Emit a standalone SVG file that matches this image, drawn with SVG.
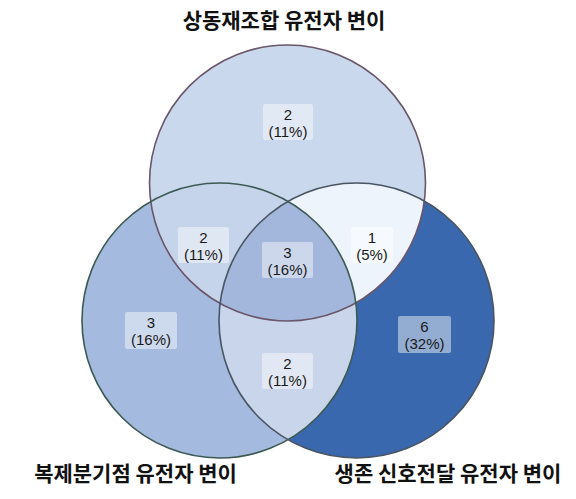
<svg xmlns="http://www.w3.org/2000/svg" width="576" height="499" viewBox="0 0 576 499">
  <style>
    .title { font-family: "Noto Sans CJK KR", "Noto Sans", sans-serif; font-weight: bold; font-size: 21px; fill: #111111; text-anchor: middle; }
    .lbl { font-family: "Liberation Sans", Arial, sans-serif; font-size: 15px; fill: #1a1a1a; text-anchor: middle; }
    .box { fill: #ffffff; fill-opacity: 0.45; }
    .outline { fill: none; stroke-width: 1.6; }
  </style>
  <defs>
    <clipPath id="clipTop"><circle cx="287.5" cy="183" r="138"/></clipPath>
    <clipPath id="clipLeft"><circle cx="219.5" cy="320.5" r="137.5"/></clipPath>
    <clipPath id="clipRight"><circle cx="356.5" cy="320.5" r="137.5"/></clipPath>
  </defs>
  <rect width="576" height="499" fill="#ffffff"/>

  <g id="regions">
    <circle cx="219.5" cy="320.5" r="137.5" fill="#a4badf"/>
    <circle cx="356.5" cy="320.5" r="137.5" fill="#3a68ae"/>
    <circle cx="287.5" cy="183" r="138" fill="#c9d8ec"/>
    <circle cx="219.5" cy="320.5" r="137.5" fill="#c8d5ea" clip-path="url(#clipRight)"/>
    <circle cx="219.5" cy="320.5" r="137.5" fill="#c5d4ea" clip-path="url(#clipTop)"/>
    <circle cx="356.5" cy="320.5" r="137.5" fill="#eef4fc" clip-path="url(#clipTop)"/>
    <g clip-path="url(#clipTop)">
      <circle cx="356.5" cy="320.5" r="137.5" fill="#a3b7dc" clip-path="url(#clipLeft)"/>
    </g>
  </g>

  <g id="set-top">
    <circle class="outline" cx="287.5" cy="183" r="138" stroke="#6a5668"/>
    <text class="title" x="284" y="28">상동재조합 유전자 변이</text>
  </g>
  <g id="set-left">
    <circle class="outline" cx="219.5" cy="320.5" r="137.5" stroke="#3d5a52"/>
    <text class="title" x="135.5" y="481">복제분기점 유전자 변이</text>
  </g>
  <g id="set-right">
    <circle class="outline" cx="356.5" cy="320.5" r="137.5" stroke="#4a5563"/>
    <text class="title" x="448" y="481">생존 신호전달 유전자 변이</text>
  </g>

  <g id="label-top">
    <rect class="box" x="263" y="104" width="50" height="36" rx="2"/>
    <text class="lbl" x="288" y="120">2</text>
    <text class="lbl" x="288" y="137">(11%)</text>
  </g>
  <g id="label-top-left">
    <rect class="box" x="178" y="227" width="51" height="36" rx="2"/>
    <text class="lbl" x="203.5" y="243">2</text>
    <text class="lbl" x="203.5" y="260">(11%)</text>
  </g>
  <g id="label-center">
    <rect class="box" x="262" y="242" width="51" height="36" rx="2"/>
    <text class="lbl" x="287.5" y="258">3</text>
    <text class="lbl" x="287.5" y="275">(16%)</text>
  </g>
  <g id="label-top-right">
    <rect class="box" x="351" y="227" width="42" height="36" rx="2"/>
    <text class="lbl" x="372" y="243">1</text>
    <text class="lbl" x="372" y="260">(5%)</text>
  </g>
  <g id="label-left">
    <rect class="box" x="125" y="312" width="52" height="37" rx="2"/>
    <text class="lbl" x="151" y="328">3</text>
    <text class="lbl" x="151" y="345">(16%)</text>
  </g>
  <g id="label-bottom">
    <rect class="box" x="262" y="353" width="51" height="36" rx="2"/>
    <text class="lbl" x="287.5" y="369">2</text>
    <text class="lbl" x="287.5" y="386">(11%)</text>
  </g>
  <g id="label-right">
    <rect class="box" x="398" y="316" width="53" height="37" rx="2"/>
    <text class="lbl" x="424.5" y="332">6</text>
    <text class="lbl" x="424.5" y="349">(32%)</text>
  </g>
</svg>
